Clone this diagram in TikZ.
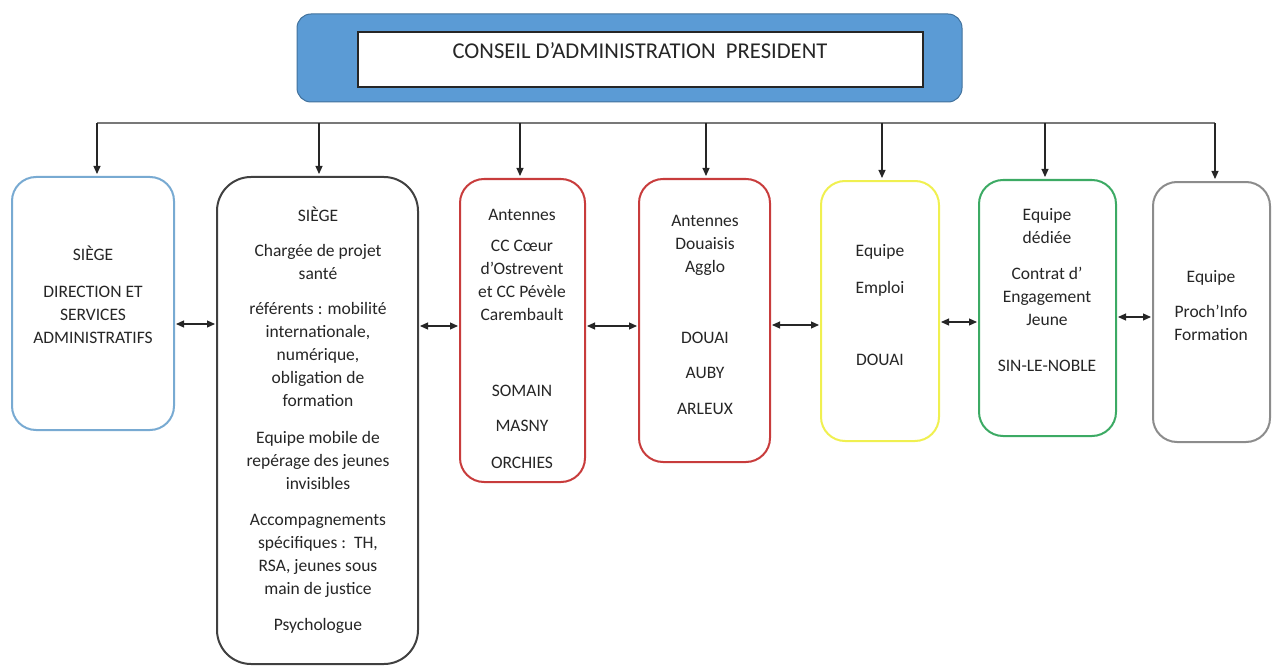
\documentclass[tikz,border=0pt]{standalone}
\usepackage{fontspec}
\setmainfont{Carlito}
\usetikzlibrary{arrows.meta}
\definecolor{topblue}{RGB}{91,155,213}
\definecolor{topedge}{RGB}{65,113,156}
\definecolor{cblue}{RGB}{120,170,210}
\definecolor{cdark}{RGB}{64,64,64}
\definecolor{cred}{RGB}{200,60,60}
\definecolor{cyellow}{RGB}{240,240,80}
\definecolor{cgreen}{RGB}{60,170,100}
\definecolor{cgray}{RGB}{140,140,140}
\definecolor{linegray}{RGB}{120,120,120}
\begin{document}
\begin{tikzpicture}[x=1pt,y=-1pt,
  box/.style={draw, line width=2pt, rounded corners=24pt, inner sep=0pt, fill=white},
  txt/.style={anchor=base, align=center, inner sep=0pt, text=black!85,
    font=\fontsize{17.5}{23}\selectfont},
  arr/.style={-{Triangle[length=8pt,width=7pt]}, line width=1.1pt, black!85, shorten >=2pt},
  darr/.style={{Triangle[length=8pt,width=7pt]}-{Triangle[length=8pt,width=7pt]}, line width=1.1pt, black!85, shorten >=1pt, shorten <=1pt}]
\useasboundingbox (0,0) rectangle (1272,666);
% top
\node[draw=topedge, fill=topblue, line width=1pt, rounded corners=14pt, minimum width=665pt, minimum height=88pt, inner sep=0pt] (top) at (629.5,58) {};
\node[draw=black!85, fill=white, line width=1.2pt, minimum width=565pt, minimum height=55pt, inner sep=0pt] (topin) at (640.5,59.5) {};
\node[txt, font=\fontsize{22.6}{28}\selectfont] (toptxt) at (640,59) {CONSEIL D’ADMINISTRATION\ \ PRESIDENT};
% boxes
\node[box, draw=cblue, minimum width=162pt, minimum height=253pt] (b1) at (93,303.5) {};
\node[box, draw=cdark, rounded corners=34pt, minimum width=201pt, minimum height=487pt] (b2) at (317.5,420.5) {};
\node[box, draw=cred, minimum width=125pt, minimum height=303pt] (b3) at (522.5,330.5) {};
\node[box, draw=cred, minimum width=131pt, minimum height=283pt] (b4) at (704.5,320.5) {};
\node[box, draw=cyellow, minimum width=118pt, minimum height=260pt] (b5) at (880,311) {};
\node[box, draw=cgreen, minimum width=137pt, minimum height=256pt] (b6) at (1047.5,308) {};
\node[box, draw=cgray, minimum width=117pt, minimum height=260pt] (b7) at (1211.5,312) {};
% texts box 1 (multi-line nodes: base = baseline of last line)
\node[txt] (t1a) at (93,260) {SIÈGE};
\node[txt] (t1b) at (93,343) {DIRECTION ET\\SERVICES\\ADMINISTRATIFS};
% box 2
\node[txt] (t2a) at (318,221) {SIÈGE};
\node[txt] (t2b) at (318,279) {Chargée de projet\\santé};
\node[txt] (t2c) at (318,406) {référents : mobilité\\internationale,\\numérique,\\obligation de\\formation};
\node[txt] (t2d) at (318,489) {Equipe mobile de\\repérage des jeunes\\invisibles};
\node[txt] (t2e) at (318,594) {Accompagnements\\spécifiques :\ \ TH,\\RSA, jeunes sous\\main de justice};
\node[txt] (t2f) at (318,630) {Psychologue};
% box 3
\node[txt] (t3a) at (522,220) {Antennes};
\node[txt] (t3b) at (522,320) {CC Cœur\\d’Ostrevent\\et CC Pévèle\\Carembault};
\node[txt] (t3c) at (522,396) {SOMAIN};
\node[txt] (t3d) at (522,431) {MASNY};
\node[txt] (t3e) at (522,468) {ORCHIES};
% box 4
\node[txt] (t4a) at (705,272) {Antennes\\Douaisis\\Agglo};
\node[txt] (t4b) at (705,343) {DOUAI};
\node[txt] (t4c) at (705,378) {AUBY};
\node[txt] (t4d) at (705,414) {ARLEUX};
% box 5
\node[txt] (t5a) at (880,256) {Equipe};
\node[txt] (t5b) at (880,293) {Emploi};
\node[txt] (t5c) at (880,365) {DOUAI};
% box 6
\node[txt] (t6a) at (1047,243) {Equipe\\dédiée};
\node[txt] (t6b) at (1047,325) {Contrat d’\\Engagement\\Jeune};
\node[txt] (t6c) at (1047,371) {SIN-LE-NOBLE};
% box 7
\node[txt] (t7a) at (1211,282) {Equipe};
\node[txt] (t7b) at (1211,340) {Proch’Info\\Formation};
% connectors
\coordinate (hl) at (0,123);
\draw[linegray, line width=1.1pt] ([xshift=4pt]b1.north |- hl) -- ([xshift=3.5pt]b7.north |- hl);
\foreach \b/\d in {b1/4,b2/1.5,b3/-2.5,b4/1.5,b5/2,b6/-2.5,b7/3.5}
  \draw[arr] ([xshift=\d pt]\b.north |- hl) -- ([xshift=\d pt]\b.north);
\coordinate (y1) at (0,324);
\coordinate (y2) at (0,326);
\coordinate (y3) at (0,326);
\coordinate (y4) at (0,325);
\coordinate (y5) at (0,322);
\coordinate (y6) at (0,317);
\draw[darr] (b1.east |- y1) -- (b2.west |- y1);
\draw[darr] (b2.east |- y2) -- (b3.west |- y2);
\draw[darr] (b3.east |- y3) -- (b4.west |- y3);
\draw[darr] (b4.east |- y4) -- (b5.west |- y4);
\draw[darr] (b5.east |- y5) -- (b6.west |- y5);
\draw[darr] (b6.east |- y6) -- (b7.west |- y6);
\end{tikzpicture}
\end{document}
